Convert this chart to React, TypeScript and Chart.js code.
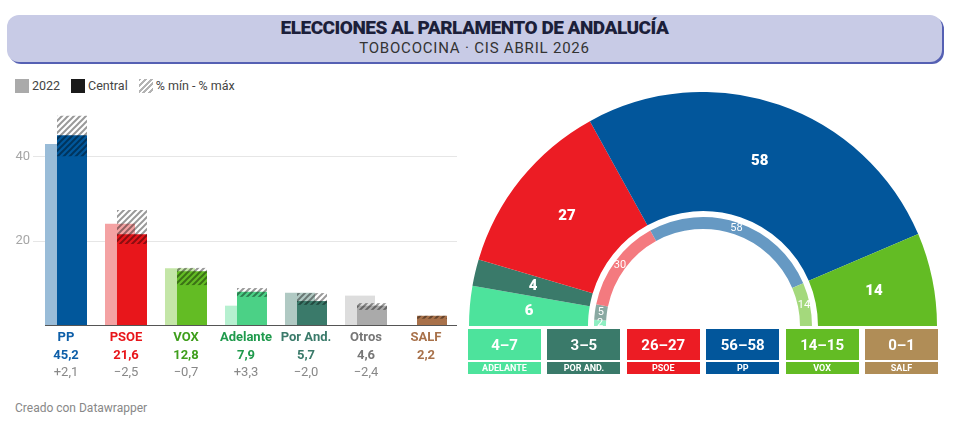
import React, { useEffect, useRef } from "react";
import { Chart, registerables } from "chart.js";

Chart.register(...registerables);

// ---------- Bar chart data (vote %) ----------
const parties = ["PP", "PSOE", "VOX", "Adelante", "Por And.", "Otros", "SALF"];
const central = [45.2, 21.6, 12.8, 7.9, 5.7, 4.6, 2.2];
const results2022: (number | null)[] = [43.1, 24.1, 13.5, 4.6, 7.7, 7.0, null];
const rangeMin = [40.2, 19.3, 9.5, 6.7, 4.8, 3.6, 1.5];
const rangeMax = [49.8, 27.4, 13.6, 8.8, 7.6, 5.2, 2.2];
const valueLabels = ["45,2", "21,6", "12,8", "7,9", "5,7", "4,6", "2,2"];
const changeLabels = ["+2,1", "\u22122,5", "\u22120,7", "+3,3", "\u22122,0", "\u22122,4", ""];
const yTicks = [20, 40];

const barColors = ["#01579b", "#e8161b", "#63bc24", "#4bd186", "#3a7a6a", "#aaaaaa", "#a8714a"];
const lightColors = ["#99bcd8", "#f4a2a3", "#c4e6a7", "#b6f0d0", "#b0c9c3", "#dddddd", "#dddddd"];
const textColors = ["#0d5ea8", "#e8161b", "#3f9e1c", "#1f9a4c", "#3a7a6a", "#777777", "#a8714a"];

// ---------- Hemicycle data (seats) ----------
const seatParties = ["Adelante", "Por And.", "PSOE", "PP", "VOX"];
const seats2026 = [6, 4, 27, 58, 14];
const seats2022 = [2, 5, 30, 58, 14];
const seatColors = ["#4de39c", "#3a7a6a", "#ec1c24", "#02569b", "#63bc24"];
const seatColors2022 = ["#8eefc2", "#89a9a2", "#f47a7f", "#6699c3", "#a4d97c"];

const rangeParties = ["ADELANTE", "POR AND.", "PSOE", "PP", "VOX", "SALF"];
const seatRanges = ["4\u20137", "3\u20135", "26\u201327", "56\u201358", "14\u201315", "0\u20131"];
const rangeColors = ["#4de39c", "#3a7a6a", "#ec1c24", "#02569b", "#63bc24", "#b08d57"];

const FONT = "Roboto, 'Noto Sans', sans-serif";

function makeHatch(ctx: CanvasRenderingContext2D) {
  const s = 6;
  const c = document.createElement("canvas");
  c.width = s;
  c.height = s;
  const g = c.getContext("2d")!;
  g.strokeStyle = "rgba(0,0,0,0.4)";
  g.lineWidth = 2;
  g.beginPath();
  g.moveTo(0, s);
  g.lineTo(s, 0);
  g.moveTo(-s / 2, s / 2);
  g.lineTo(s / 2, -s / 2);
  g.moveTo(s / 2, s * 1.5);
  g.lineTo(s * 1.5, s / 2);
  g.stroke();
  return ctx.createPattern(c, "repeat");
}

const intTicks = (scale: any) => {
  scale.ticks = parties.map((_, i) => ({ value: i }));
};

function BarChart() {
  const ref = useRef<HTMLCanvasElement>(null);
  useEffect(() => {
    const canvas = ref.current!;
    const ctx = canvas.getContext("2d")!;
    const hatch = makeHatch(ctx);

    const labelsPlugin = {
      id: "partyLabels",
      afterDatasetsDraw(chart: any) {
        const c = chart.ctx;
        const xs = chart.scales.x;
        const ys = chart.scales.y;
        const area = chart.chartArea;
        c.save();
        // baseline
        c.strokeStyle = "#555555";
        c.lineWidth = 1;
        const y0 = Math.round(ys.getPixelForValue(0)) + 0.5;
        c.beginPath();
        c.moveTo(xs.getPixelForValue(-0.45), y0);
        c.lineTo(area.right, y0);
        c.stroke();
        c.textAlign = "center";
        c.textBaseline = "middle";
        parties.forEach((p, i) => {
          const x = xs.getPixelForValue(i - 0.1);
          c.fillStyle = textColors[i];
          c.font = `bold 13px ${FONT}`;
          c.fillText(p, x, area.bottom + 13);
          c.fillText(valueLabels[i], x, area.bottom + 31);
          c.fillStyle = "#888888";
          c.font = `13px ${FONT}`;
          c.fillText(changeLabels[i], x, area.bottom + 48);
        });
        c.restore();
      },
    };

    const common = { grouped: false, categoryPercentage: 1, barPercentage: 0.5, borderWidth: 0 };
    const chart = new Chart(ctx, {
      type: "bar",
      data: {
        datasets: [
          {
            label: "% mín - % máx",
            data: parties.map((_, i) => ({ x: i, y: [rangeMin[i], rangeMax[i]] })) as any,
            backgroundColor: hatch as any,
            xAxisID: "x",
            order: 0,
            ...common,
          },
          {
            label: "Central",
            data: parties.map((_, i) => ({ x: i, y: central[i] })) as any,
            backgroundColor: barColors,
            xAxisID: "x",
            order: 1,
            ...common,
          },
          {
            label: "2022",
            data: parties.map((_, i) => ({ x: i, y: results2022[i] })) as any,
            backgroundColor: lightColors,
            xAxisID: "x2",
            order: 2,
            ...common,
          },
        ],
      },
      options: {
        responsive: false,
        animation: false,
        layout: { padding: { top: 15, right: 13, bottom: 75, left: 0 } },
        plugins: { legend: { display: false }, tooltip: { enabled: false } },
        scales: {
          x: {
            type: "linear",
            min: -0.65,
            max: 6.417,
            offset: false,
            display: false,
            afterBuildTicks: intTicks,
          },
          x2: {
            type: "linear",
            min: -0.45,
            max: 6.617,
            offset: false,
            display: false,
            afterBuildTicks: intTicks,
          },
          y: {
            min: 0,
            max: 50,
            afterBuildTicks: (s: any) => {
              s.ticks = yTicks.map((v) => ({ value: v }));
            },
            afterFit: (s: any) => {
              s.width = 33;
            },
            border: { display: false },
            grid: { color: "#e6e6e6", drawTicks: false },
            ticks: { color: "#a6a6a6", font: { family: FONT, size: 13 }, padding: 3 },
          },
        } as any,
      },
      plugins: [labelsPlugin],
    });
    return () => chart.destroy();
  }, []);
  return <canvas ref={ref} width={470} height={300} />;
}

function Hemicycle() {
  const ref = useRef<HTMLCanvasElement>(null);
  useEffect(() => {
    const ctx = ref.current!.getContext("2d")!;
    const seatLabels = {
      id: "seatLabels",
      afterDatasetsDraw(chart: any) {
        const c = chart.ctx;
        c.save();
        c.fillStyle = "#ffffff";
        c.textAlign = "center";
        c.textBaseline = "middle";
        const drawRing = (idx: number, values: number[], font: string) => {
          c.font = font;
          chart.getDatasetMeta(idx).data.forEach((arc: any, i: number) => {
            const p = arc.getProps(["startAngle", "endAngle", "innerRadius", "outerRadius", "x", "y"], true);
            const a = (p.startAngle + p.endAngle) / 2;
            const r = (p.innerRadius + p.outerRadius) / 2;
            c.fillText(String(values[i]), p.x + r * Math.cos(a), p.y + r * Math.sin(a));
          });
        };
        drawRing(0, seats2026, `900 15px ${FONT}`);
        drawRing(2, seats2022, `11px ${FONT}`);
        c.restore();
      },
    };
    const chart = new Chart(ctx, {
      type: "doughnut",
      data: {
        labels: seatParties,
        datasets: [
          { data: seats2026, backgroundColor: seatColors, borderWidth: 0, weight: 119 },
          { data: [1], backgroundColor: "rgba(0,0,0,0)", borderWidth: 0, weight: 6 },
          { data: seats2022, backgroundColor: seatColors2022, borderWidth: 0, weight: 12 },
        ],
      },
      options: {
        responsive: false,
        animation: false,
        rotation: -90,
        circumference: 180,
        cutout: `${(97 / 234) * 100}%`,
        layout: { padding: 0 },
        plugins: { legend: { display: false }, tooltip: { enabled: false } },
      },
      plugins: [seatLabels],
    });
    return () => chart.destroy();
  }, []);
  return <canvas ref={ref} width={468} height={234} />;
}

const legendItems = [
  { label: "2022", bg: "#aaaaaa" },
  { label: "Central", bg: "#1a1a1a" },
  { label: "% mín - % máx", bg: "repeating-linear-gradient(135deg, #b3b3b3 0 2px, #ffffff 2px 4px)" },
];

export default function App() {
  return (
    <div
      style={{
        position: "absolute",
        left: 0,
        top: 0,
        width: 959,
        height: 426,
        background: "#ffffff",
        fontFamily: FONT,
        overflow: "hidden",
      }}
    >
      <div
        style={{
          position: "absolute",
          left: 7,
          top: 15,
          width: 935,
          height: 47,
          borderRadius: 12,
          background: "#c8cbe6",
          boxShadow: "2px 2px 0 #5560b3",
          textAlign: "center",
        }}
      >
        <div
          style={{
            marginTop: 2,
            fontSize: 19,
            fontWeight: 900,
            color: "#1c1f3a",
            letterSpacing: -0.5,
            lineHeight: "22px",
          }}
        >
          ELECCIONES AL PARLAMENTO DE ANDALUCÍA
        </div>
        <div style={{ fontSize: 15, color: "#333333", lineHeight: "18px", letterSpacing: 0.8 }}>
          TOBOCOCINA · CIS ABRIL 2026
        </div>
      </div>

      <div style={{ position: "absolute", left: 15, top: 79, display: "flex", alignItems: "center" }}>
        {legendItems.map((it) => (
          <div key={it.label} style={{ display: "flex", alignItems: "center", marginRight: 11 }}>
            <div style={{ width: 14, height: 14, background: it.bg, marginRight: 3 }} />
            <span style={{ fontSize: 12.5, color: "#444444", lineHeight: "14px" }}>{it.label}</span>
          </div>
        ))}
      </div>

      <div style={{ position: "absolute", left: 0, top: 100 }}>
        <BarChart />
      </div>

      <div style={{ position: "absolute", left: 469, top: 92 }}>
        <Hemicycle />
      </div>

      {rangeParties.map((p, i) => (
        <div key={p} style={{ position: "absolute", left: 468 + i * 79.4, top: 329, width: 73 }}>
          <div
            style={{
              height: 31,
              background: rangeColors[i],
              color: "#ffffff",
              fontWeight: 700,
              fontSize: 15,
              display: "flex",
              alignItems: "center",
              justifyContent: "center",
            }}
          >
            {seatRanges[i]}
          </div>
          <div
            style={{
              marginTop: 2,
              height: 12,
              background: rangeColors[i],
              color: "#ffffff",
              fontWeight: 700,
              fontSize: 9,
              lineHeight: "12px",
              textAlign: "center",
            }}
          >
            {p}
          </div>
        </div>
      ))}

      <div style={{ position: "absolute", left: 15, top: 401, fontSize: 12, color: "#888888" }}>
        Creado con Datawrapper
      </div>
    </div>
  );
}
